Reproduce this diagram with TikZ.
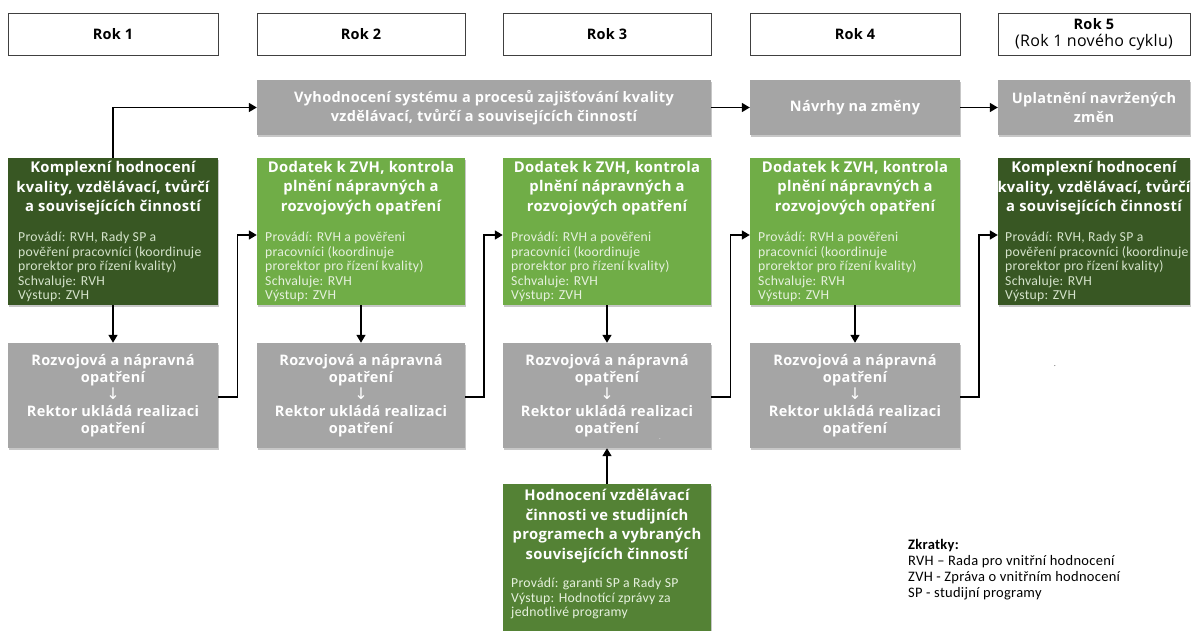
\documentclass[tikz,border=0pt]{standalone}
\usepackage{fontspec}
\setmainfont[LetterSpace=2]{Open Sans}
\newfontfamily\calib[LetterSpace=2]{Carlito}
\newfontfamily\djv{DejaVu Sans}
\usetikzlibrary{arrows.meta,shadows}
\definecolor{dkgreen}{HTML}{385723}
\definecolor{ltgreen}{HTML}{70AD47}
\definecolor{mdgreen}{HTML}{548235}
\definecolor{boxgray}{HTML}{A5A5A5}
\definecolor{dettxtdk}{HTML}{D5E3CB}
\definecolor{dettxtlt}{HTML}{E6F1DE}
\newcommand{\downarr}{{\djv\mdseries\fontsize{16}{17}\selectfont ↓}}
\tikzset{
  yearbox/.style={draw=black!75, line width=0.8pt, inner sep=0pt, fill=white, align=center,
    font=\fontsize{14.5}{17}\selectfont},
  graybox/.style={fill=boxgray, inner sep=0pt, text=white, align=center,
    font=\bfseries\fontsize{14.5}{17}\selectfont,
    drop shadow={shadow xshift=1.2pt, shadow yshift=-1.6pt, opacity=0.22, fill=black}},
  topgray/.style={graybox, font=\bfseries\fontsize{14.5}{19}\selectfont},
  gbox/.style={fill=#1, inner sep=0pt,
    drop shadow={shadow xshift=1.2pt, shadow yshift=-1.6pt, opacity=0.22, fill=black}},
  ttl/.style={text=white, font=\bfseries\fontsize{14.8}{19.5}\selectfont, align=center,
    inner sep=0pt, anchor=north},
  det/.style={text=#1, font=\calib\fontsize{13.7}{14.5}\selectfont, align=left,
    inner sep=0pt, anchor=north west},
  conn/.style={draw=black, line width=1.5pt, -{Triangle[length=8pt,width=9pt]}},
  legend/.style={font=\calib\fontsize{14.5}{16}\selectfont, align=left, inner sep=0pt, anchor=north west}
}
\begin{document}
\begin{tikzpicture}[x=1pt,y=-1pt]
\useasboundingbox[fill=white] (0,0) rectangle (1198,631);

% year headers
\node[yearbox, minimum width=210pt, minimum height=42pt] (y1) at (113,34) {\bfseries Rok 1};
\node[yearbox, minimum width=208pt, minimum height=42pt] (y2) at (361,34) {\bfseries Rok 2};
\node[yearbox, minimum width=208pt, minimum height=42pt] (y3) at (607,34) {\bfseries Rok 3};
\node[yearbox, minimum width=210pt, minimum height=42pt] (y4) at (855,34) {\bfseries Rok 4};
\node[yearbox, minimum width=192pt, minimum height=42pt] (y5) at (1094,34) {\textbf{Rok 5}\\{\fontsize{16}{17}\selectfont(Rok 1 nového cyklu)}};

% top gray row
\node[topgray, minimum width=454pt, minimum height=55pt] (t1) at (484,107.5)
  {Vyhodnocení systému a procesů zajišťování kvality\\vzdělávací, tvůrčí a souvisejících činností};
\node[topgray, minimum width=210pt, minimum height=55pt] (t2) at (855,107.5) {Návrhy na změny};
\node[topgray, minimum width=192pt, minimum height=55pt] (t3) at (1094,107.5) {Uplatnění navržených\\změn};

% green row
\node[gbox=dkgreen, minimum width=210pt, minimum height=147pt] (c1) at (113,231.5) {};
\node[gbox=ltgreen, minimum width=208pt, minimum height=147pt] (c2) at (361,231.5) {};
\node[gbox=ltgreen, minimum width=208pt, minimum height=147pt] (c3) at (607,231.5) {};
\node[gbox=ltgreen, minimum width=210pt, minimum height=147pt] (c4) at (855,231.5) {};
\node[gbox=dkgreen, minimum width=192pt, minimum height=147pt] (c5) at (1094,231.5) {};

\node[ttl] (c1t) at (113,161) {Komplexní hodnocení\\kvality, vzdělávací, tvůrčí\\a souvisejících činností};
\node[ttl] (c2t) at (361,161) {Dodatek k ZVH, kontrola\\plnění nápravných a\\rozvojových opatření};
\node[ttl] (c3t) at (607,161) {Dodatek k ZVH, kontrola\\plnění nápravných a\\rozvojových opatření};
\node[ttl] (c4t) at (855,161) {Dodatek k ZVH, kontrola\\plnění nápravných a\\rozvojových opatření};
\node[ttl] (c5t) at (1094,161) {Komplexní hodnocení\\kvality, vzdělávací, tvůrčí\\a souvisejících činností};

\node[det=dettxtdk] (c1d) at (18,232) {Provádí: RVH, Rady SP a\\pověření pracovníci (koordinuje\\prorektor pro řízení kvality)\\Schvaluje: RVH\\Výstup: ZVH};
\node[det=dettxtlt] (c2d) at (265,232) {Provádí: RVH a pověřeni\\pracovníci (koordinuje\\prorektor pro řízení kvality)\\Schvaluje: RVH\\Výstup: ZVH};
\node[det=dettxtlt] (c3d) at (511,232) {Provádí: RVH a pověřeni\\pracovníci (koordinuje\\prorektor pro řízení kvality)\\Schvaluje: RVH\\Výstup: ZVH};
\node[det=dettxtlt] (c4d) at (758,232) {Provádí: RVH a pověřeni\\pracovníci (koordinuje\\prorektor pro řízení kvality)\\Schvaluje: RVH\\Výstup: ZVH};
\node[det=dettxtdk] (c5d) at (1005,232) {Provádí: RVH, Rady SP a\\pověření pracovníci (koordinuje\\prorektor pro řízení kvality)\\Schvaluje: RVH\\Výstup: ZVH};

% lower gray row
\node[graybox, minimum width=210pt, minimum height=105pt] (r1) at (113,395.5)
  {Rozvojová a nápravná\\opatření\\\downarr\\Rektor ukládá realizaci\\opatření};
\node[graybox, minimum width=208pt, minimum height=105pt] (r2) at (361,395.5)
  {Rozvojová a nápravná\\opatření\\\downarr\\Rektor ukládá realizaci\\opatření};
\node[graybox, minimum width=208pt, minimum height=105pt] (r3) at (607,395.5)
  {Rozvojová a nápravná\\opatření\\\downarr\\Rektor ukládá realizaci\\opatření};
\node[graybox, minimum width=210pt, minimum height=105pt] (r4) at (855,395.5)
  {Rozvojová a nápravná\\opatření\\\downarr\\Rektor ukládá realizaci\\opatření};

% bottom green box
\node[gbox=mdgreen, minimum width=208pt, minimum height=147pt] (hb) at (607,557.5) {};
\node[ttl] (hbt) at (607,489) {Hodnocení vzdělávací\\činnosti ve studijních\\programech a vybraných\\souvisejících činností};
\node[det=dettxtlt] (hbd) at (511,578) {Provádí: garanti SP a Rady SP\\Výstup: Hodnotící zprávy za\\jednotlivé programy};

% stray dots
\node[inner sep=0pt, text=black!70, font=\fontsize{8}{8}\selectfont] (dot1) at (1055,366) {.};
\node[inner sep=0pt, text=white!85!black, font=\fontsize{8}{8}\selectfont] (dot2) at (660,439) {.};

% legend
\node[legend] (leg) at (908,539) {\textbf{Zkratky:}\\RVH – Rada pro vnitřní hodnocení\\ZVH - Zpráva o vnitřním hodnocení\\SP - studijní programy};

% connectors
\draw[conn] (c1.north) |- (t1.west);
\draw[conn] (t1.east) -- (t2.west);
\draw[conn] (t2.east) -- (t3.west);
\draw[conn] (c1.south) -- (r1.north);
\draw[conn] (c2.south) -- (r2.north);
\draw[conn] (c3.south) -- (r3.north);
\draw[conn] (c4.south) -- (r4.north);
\draw[conn] (hb.north) -- (r3.south);

\coordinate (k1a) at (237.5,397); \coordinate (k1b) at (237.5,235);
\coordinate (k2a) at (484,397);   \coordinate (k2b) at (484,235);
\coordinate (k3a) at (730.5,397); \coordinate (k3b) at (730.5,235);
\coordinate (k4a) at (979,397);   \coordinate (k4b) at (979,235);
\draw[conn] (r1.east |- k1a) -- (k1a) -- (k1b) -- (c2.west |- k1b);
\draw[conn] (r2.east |- k2a) -- (k2a) -- (k2b) -- (c3.west |- k2b);
\draw[conn] (r3.east |- k3a) -- (k3a) -- (k3b) -- (c4.west |- k3b);
\draw[conn] (r4.east |- k4a) -- (k4a) -- (k4b) -- (c5.west |- k4b);
\end{tikzpicture}
\end{document}
